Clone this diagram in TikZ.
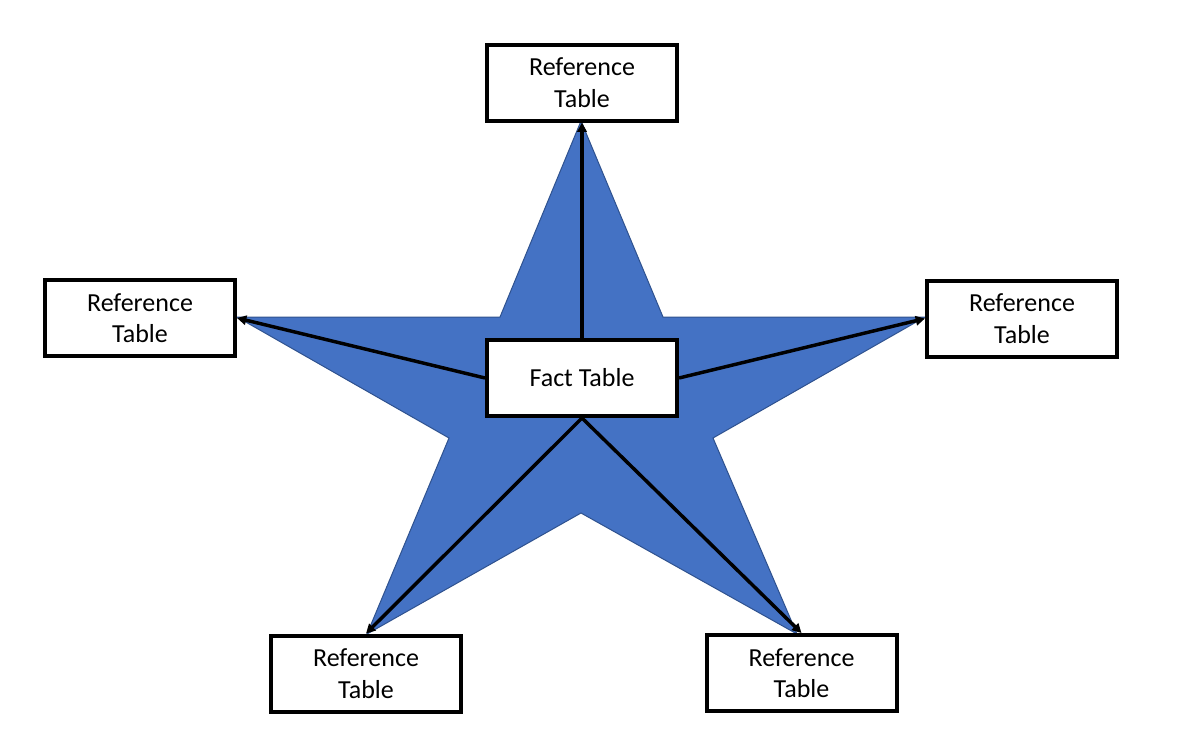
\documentclass[tikz,border=0pt]{standalone}
\usepackage{fontspec}
\setmainfont{Carlito}
\usetikzlibrary{arrows.meta}
\definecolor{starfill}{HTML}{4472C4}
\definecolor{staredge}{HTML}{2F528F}
\tikzset{
  tbl/.style={draw=black, fill=white, line width=3pt, minimum width=142.5pt, minimum height=57pt,
    inner sep=0pt, align=center, font=\fontsize{19.5pt}{23.6pt}\selectfont},
  link/.style={line width=2.6pt, -{Triangle[length=7pt,width=7pt]}}
}
\begin{document}
\begin{tikzpicture}[x=0.75pt,y=-0.75pt]
\useasboundingbox (0,0) rectangle (1191,754);
% star
\fill[starfill, draw=staredge, line width=0.75pt]
  (581,121) -- (663,317) -- (925,317) -- (713,438) -- (797,634) -- (581,513)
  -- (367,634) -- (449,438) -- (237,317) -- (500,317) -- cycle;
% tables
\node[tbl] (top) at (582,82.5) {\raisebox{-1.5pt}{\parbox{140pt}{\centering Reference\\Table}}};
\node[tbl] (left) at (140,318) {\raisebox{-1.5pt}{\parbox{140pt}{\centering Reference\\Table}}};
\node[tbl] (right) at (1022,318.5) {\raisebox{-1.5pt}{\parbox{140pt}{\centering Reference\\Table}}};
\node[tbl] (bl) at (366,673.5) {\raisebox{-1.5pt}{\parbox{140pt}{\centering Reference\\Table}}};
\node[tbl] (br) at (801.5,673) {\raisebox{-1.5pt}{\parbox{140pt}{\centering Reference\\Table}}};
\node[tbl] (fact) at (582,378) {Fact Table};
% connectors
\draw[link] (fact.north) -- (top.south);
\draw[link] (fact.west) -- (left.east);
\draw[link] (fact.east) -- (right.west);
\draw[link] (fact.south) -- (bl.north);
\draw[link] (fact.south) -- (br.north);
\end{tikzpicture}
\end{document}
